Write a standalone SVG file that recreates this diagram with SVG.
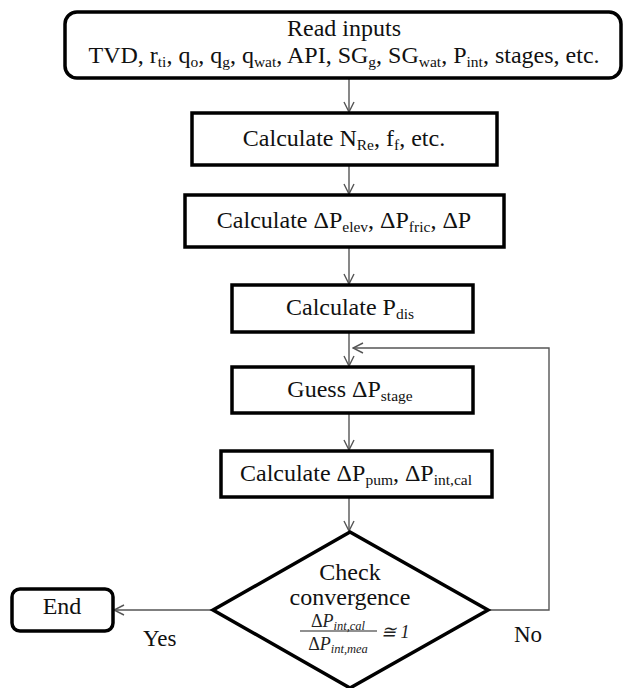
<svg xmlns="http://www.w3.org/2000/svg" width="623" height="688" viewBox="0 0 623 688">
<defs>
<style>
.box{fill:#fff;stroke:#000;stroke-width:3.5}
.t{font-family:"Liberation Serif","Times New Roman",serif;font-size:24px;fill:#111;text-anchor:middle}
.s{font-size:15.5px}
.m{font-family:"Liberation Serif","Times New Roman",serif;font-style:italic;font-size:18px;fill:#222}
.ms{font-size:12.5px}
.c{fill:none;stroke:#555;stroke-width:1.4}
.lbl{font-family:"Liberation Serif","Times New Roman",serif;font-size:23px;fill:#111}
</style>
<marker id="ah" viewBox="0 0 12 12" refX="11" refY="6" markerWidth="12" markerHeight="12" markerUnits="userSpaceOnUse" orient="auto">
<path d="M1,1 L11,6 L1,11" fill="none" stroke="#555" stroke-width="1.4"/>
</marker>
</defs>
<rect width="623" height="688" fill="#fff"/>

<g id="connectors">
<line class="c" x1="349" y1="78" x2="349" y2="112" marker-end="url(#ah)"/>
<line class="c" x1="349" y1="165" x2="349" y2="194" marker-end="url(#ah)"/>
<line class="c" x1="349" y1="247" x2="349" y2="284" marker-end="url(#ah)"/>
<line class="c" x1="349" y1="332" x2="349" y2="366" marker-end="url(#ah)"/>
<line class="c" x1="349" y1="413" x2="349" y2="450" marker-end="url(#ah)"/>
<line class="c" x1="349" y1="497" x2="349" y2="531" marker-end="url(#ah)"/>
<polyline class="c" points="488,610 549,610 549,348 353,348" marker-end="url(#ah)"/>
<line class="c" x1="213" y1="610" x2="114" y2="610" marker-end="url(#ah)"/>
</g>

<g id="read-inputs">
<rect class="box" x="65" y="12" width="556" height="66" rx="12"/>
<text class="t" x="344" y="36">Read inputs</text>
<text class="t" x="344" y="63">TVD, r<tspan class="s" dy="3.5">ti</tspan><tspan dy="-3.5">, q</tspan><tspan class="s" dy="3.5">o</tspan><tspan dy="-3.5">, q</tspan><tspan class="s" dy="3.5">g</tspan><tspan dy="-3.5">, q</tspan><tspan class="s" dy="3.5">wat</tspan><tspan dy="-3.5">, API, SG</tspan><tspan class="s" dy="3.5">g</tspan><tspan dy="-3.5">, SG</tspan><tspan class="s" dy="3.5">wat</tspan><tspan dy="-3.5">, P</tspan><tspan class="s" dy="3.5">int</tspan><tspan dy="-3.5">, stages, etc.</tspan></text>
</g>

<g id="calc-nre">
<rect class="box" x="192" y="113" width="305" height="52"/>
<text class="t" x="344" y="146">Calculate N<tspan class="s" dy="3.5">Re</tspan><tspan dy="-3.5">, f</tspan><tspan class="s" dy="3.5">f</tspan><tspan dy="-3.5">, etc.</tspan></text>
</g>

<g id="calc-dp">
<rect class="box" x="185" y="195" width="319" height="52"/>
<text class="t" x="344" y="228">Calculate ΔP<tspan class="s" dy="3.5">elev</tspan><tspan dy="-3.5">, ΔP</tspan><tspan class="s" dy="3.5">fric</tspan><tspan dy="-3.5">, ΔP</tspan></text>
</g>

<g id="calc-pdis">
<rect class="box" x="232" y="285" width="241" height="47"/>
<text class="t" x="350" y="315">Calculate P<tspan class="s" dy="3.5">dis</tspan></text>
</g>

<g id="guess">
<rect class="box" x="232" y="367" width="241" height="46"/>
<text class="t" x="350" y="397">Guess ΔP<tspan class="s" dy="3.5">stage</tspan></text>
</g>

<g id="calc-pum">
<rect class="box" x="221" y="451" width="271" height="46"/>
<text class="t" x="356" y="481">Calculate ΔP<tspan class="s" dy="3.5">pum</tspan><tspan dy="-3.5">, ΔP</tspan><tspan class="s" dy="3.5">int,cal</tspan></text>
</g>

<g id="check">
<polygon class="box" points="350,532 488,610 350,688 213,610"/>
<text class="t" x="350" y="580">Check</text>
<text class="t" x="350" y="605">convergence</text>
<text class="m" x="338" y="627" text-anchor="middle"><tspan font-style="normal">Δ</tspan>P<tspan class="ms" dy="3">int,cal</tspan></text>
<line x1="300" y1="631" x2="377" y2="631" stroke="#222" stroke-width="1.2"/>
<text class="m" x="338" y="650" text-anchor="middle"><tspan font-style="normal">Δ</tspan>P<tspan class="ms" dy="3">int,mea</tspan></text>
<text class="m" x="381" y="638" font-style="normal">≅ 1</text>
</g>

<g id="end">
<rect class="box" x="12" y="589" width="101" height="42" rx="8"/>
<text class="t" x="62" y="614">End</text>
</g>

<g id="labels">
<text class="lbl" x="143" y="646">Yes</text>
<text class="lbl" x="514" y="642">No</text>
</g>
</svg>
